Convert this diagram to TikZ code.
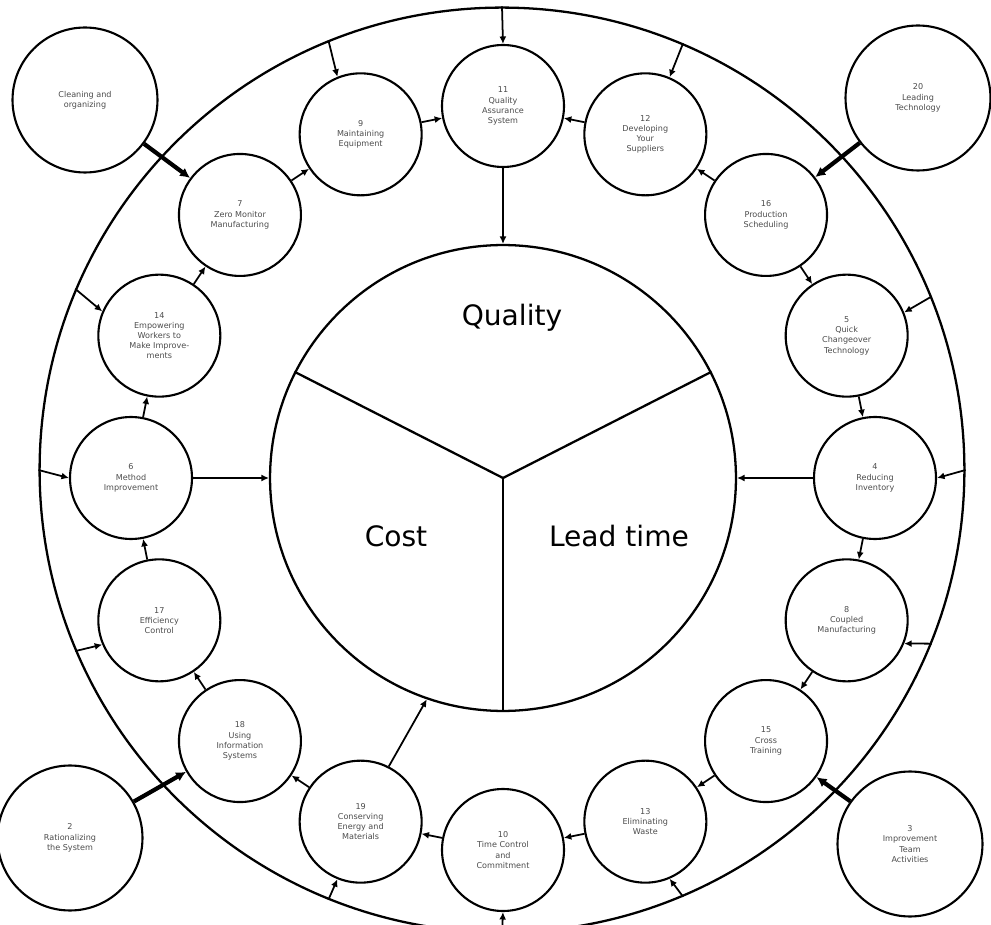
\documentclass[tikz,border=0pt]{standalone}
\usepackage{fontspec}
\setmainfont{DejaVu Sans}
\usetikzlibrary{arrows.meta,calc}

\tikzset{
  keyball/.style={circle, draw, line width=1.2pt, minimum size=2.44cm, inner sep=0pt,
    align=center, font=\fontsize{4.6}{5.8}\selectfont, text=black!70},
  cornerball/.style={keyball, minimum size=2.9cm},
  hub/.style={circle, draw, line width=1.3pt, minimum size=9.32cm, inner sep=0pt},
  rim/.style={circle, draw, line width=1.3pt, minimum size=18.5cm, inner sep=0pt},
  chain/.style={-{Latex[length=1.5mm,width=1.4mm]}, line width=1pt},
  bond/.style={-{Latex[length=2mm,width=2mm]}, line width=2.4pt},
  divider/.style={line width=1.3pt},
  sector/.style={font=\fontsize{16}{18}\selectfont}
}

\begin{document}
\begin{tikzpicture}[x=0.02cm, y=0.02cm]
  \useasboundingbox (0,0) rectangle (991,924);
  \coordinate (c) at (503,446);

  % big rings
  \node[rim] (rim) at (502,454) {};
  \node[hub] (hub) at (c) {};
  \draw[divider] (hub.center) -- (hub.153);
  \draw[divider] (hub.center) -- (hub.27);
  \draw[divider] (hub.center) -- (hub.270);
  \node[sector] (quality) at (512,606) {Quality};
  \node[sector] (cost) at (396,388) {Cost};
  \node[sector] (lead) at (619,388) {Lead time};

  % the sixteen keys on the ring
  \node[keyball] (n11) at ($(c)+(90:372)$) {11\\Quality\\Assurance\\System};
  \node[keyball] (n12) at ($(c)+(67.5:372)$) {12\\Developing\\Your\\Suppliers};
  \node[keyball] (n16) at ($(c)+(45:372)$) {16\\Production\\Scheduling};
  \node[keyball] (n5) at ($(c)+(22.5:372)$) {5\\Quick\\Changeover\\Technology};
  \node[keyball] (n4) at ($(c)+(0:372)$) {4\\Reducing\\Inventory};
  \node[keyball] (n8) at ($(c)+(-22.5:372)$) {8\\Coupled\\Manufacturing};
  \node[keyball] (n15) at ($(c)+(-45:372)$) {15\\Cross\\Training};
  \node[keyball] (n13) at ($(c)+(-67.5:372)$) {13\\Eliminating\\Waste};
  \node[keyball] (n10) at ($(c)+(-90:372)$) {10\\Time Control\\and\\Commitment};
  \node[keyball] (n19) at ($(c)+(-112.5:372)$) {19\\Conserving\\Energy and\\Materials};
  \node[keyball] (n18) at ($(c)+(-135:372)$) {18\\Using\\Information\\Systems};
  \node[keyball] (n17) at ($(c)+(-157.5:372)$) {17\\Efficiency\\Control};
  \node[keyball] (n6) at ($(c)+(180:372)$) {6\\Method\\Improvement};
  \node[keyball] (n14) at ($(c)+(157.5:372)$) {14\\Empowering\\Workers to\\Make Improve-\\ments};
  \node[keyball] (n7) at ($(c)+(135:372)$) {7\\Zero Monitor\\Manufacturing};
  \node[keyball] (n9) at ($(c)+(112.5:372)$) {9\\Maintaining\\Equipment};

  % corner keys
  \node[cornerball] (tl) at (85,824) {Cleaning and\\organizing};
  \node[cornerball] (tr) at (918,826) {20\\Leading\\Technology};
  \node[cornerball] (bl) at (70,86) {2\\Rationalizing\\the System};
  \node[cornerball] (br) at (910,80) {3\\Improvement\\Team\\Activities};

  % ring chain
  \foreach \a/\b in {n16/n12, n12/n11, n16/n5, n5/n4, n4/n8, n8/n15, n15/n13, n13/n10,
                     n10/n19, n19/n18, n18/n17, n17/n6, n6/n14, n14/n7, n7/n9, n9/n11}
    \draw[chain] (\a) -- (\b);

  % spokes from the rim
  \foreach \n/\t in {n11/90, n12/67.5, n5/22.5, n4/0, n8/-22.5, n13/-67.5, n10/-90,
                     n19/-112.5, n17/-157.5, n6/180, n14/157.5, n9/112.5}
    \draw[chain] (rim.\t) -- (\n.\t);

  % spokes into the hub
  \draw[chain] (n11.270) -- (hub.90);
  \draw[chain] (n6.0) -- (hub.180);
  \draw[chain] (n4.180) -- (hub.0);
  \draw[chain] (n19.63) -- (hub.251);

  % corner bonds
  \draw[bond] (tl) -- (n7);
  \draw[bond] (tr) -- (n16);
  \draw[bond] (bl) -- (n18);
  \draw[bond] (br) -- (n15);
\end{tikzpicture}
\end{document}
